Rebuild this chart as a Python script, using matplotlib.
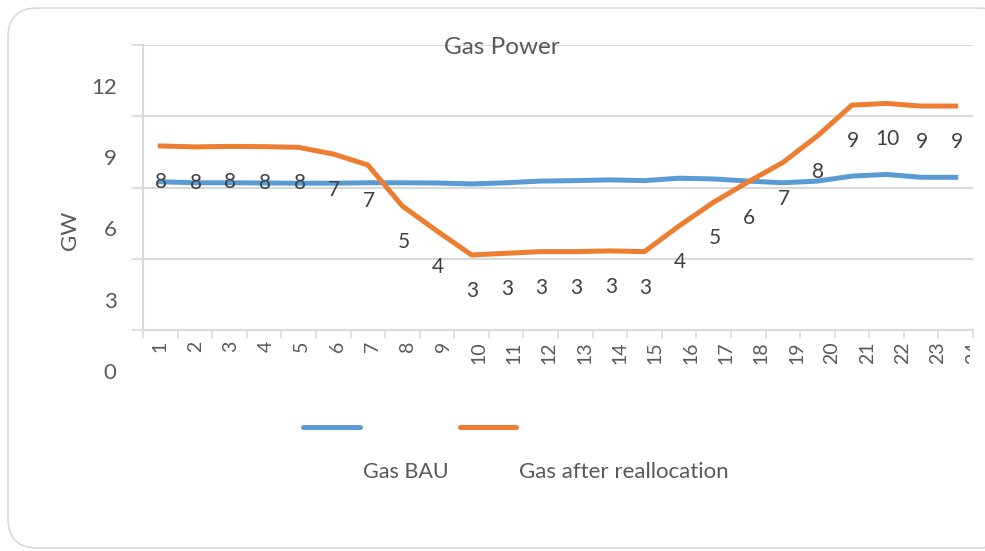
import matplotlib.pyplot as plt
from matplotlib.lines import Line2D
from matplotlib.patches import FancyBboxPatch
from matplotlib.transforms import ScaledTranslation, Bbox

plt.rcParams['font.family'] = ['Lato', 'DejaVu Sans']

hours = list(range(1, 25))
gas_bau = [6.24, 6.20, 6.20, 6.19, 6.18, 6.18, 6.20, 6.20, 6.19, 6.15, 6.20, 6.27,
           6.29, 6.32, 6.29, 6.39, 6.36, 6.27, 6.20, 6.27, 6.48, 6.55, 6.43, 6.43]
gas_realloc = [7.75, 7.71, 7.73, 7.72, 7.69, 7.41, 6.95, 5.22, 4.17, 3.16, 3.23, 3.30,
               3.30, 3.33, 3.30, 4.38, 5.38, 6.24, 7.05, 8.17, 9.47, 9.54, 9.43, 9.43]
y_ticks = [0, 3, 6, 9, 12]

BLUE = "#5B9BD5"
ORANGE = "#ED7D31"
GRID = "#D9D9D9"
TXT = "#595959"
W, H = 985, 551

fig = plt.figure(figsize=(W / 100, H / 100), dpi=100)

# rounded chart frame, runs off the right edge
frame = FancyBboxPatch((8 / W, 3 / H), 1000 / W, 540 / H,
                       boxstyle="round,pad=0,rounding_size=0.03",
                       transform=fig.transFigure, facecolor="white",
                       edgecolor="#D9D9D9", linewidth=1.2, mutation_aspect=W / H,
                       zorder=-10)
fig.add_artist(frame)

ax = fig.add_axes([143 / W, 1 - 330 / H, (973 - 143) / W, (330 - 45) / H])
ax.set_facecolor("none")

ax.plot(hours, gas_bau, color=BLUE, linewidth=3.6, solid_joinstyle="round")
ax.plot(hours, gas_realloc, color=ORANGE, linewidth=3.6, solid_joinstyle="round")

# rounded value labels, sitting below the orange line
for h, v in zip(hours, gas_realloc):
    ax.annotate(f"{v:.0f}", xy=(h, v), xytext=(1, -36), textcoords="offset pixels",
                ha="center", va="center", fontsize=15, color="#404040")

ax.set_xlim(0.5, 24.5)
ax.set_ylim(0, 12)

ax.set_yticks(y_ticks)
ax.set_yticklabels([str(t) for t in y_ticks])
ax.yaxis.grid(True, color=GRID, linewidth=1.5)
ax.tick_params(axis="y", length=8, width=1.2, color=GRID, pad=11,
               labelsize=16, labelcolor=TXT)
shift = ScaledTranslation(0, -0.41, fig.dpi_scale_trans)
for lab in ax.get_yticklabels():
    lab.set_transform(lab.get_transform() + shift)

ax.set_xticks(hours)
ax.set_xticklabels([str(h) for h in hours], rotation=90)
ax.set_xticks([h - 0.5 for h in hours] + [24.5], minor=True)
ax.tick_params(axis="x", which="major", length=0, pad=8, labelsize=14, labelcolor=TXT)
ax.tick_params(axis="x", which="minor", length=6, width=1.2, color=GRID)
clip = Bbox.from_extents(0, 0, 970, H)
for i, lab in enumerate(ax.get_xticklabels()):
    lab.set_transform(lab.get_transform() + ScaledTranslation(i * 0.0077, 0, fig.dpi_scale_trans))
    lab.set_clip_box(clip)
    lab.set_clip_on(True)

for side in ["top", "right"]:
    ax.spines[side].set_visible(False)
for side in ["left", "bottom"]:
    ax.spines[side].set_color(GRID)
    ax.spines[side].set_linewidth(1.5)
ax.set_axisbelow(True)

fig.text(502 / W, 1 - 47 / H, "Gas Power", ha="center", va="center",
         fontsize=17.5, color=TXT)
fig.text(70 / W, 1 - 230 / H, "GW", rotation=90, ha="center", va="center",
         fontsize=16, color=TXT)

# legend swatches with their labels set lower down
fig.add_artist(Line2D([303 / W, 360 / W], [1 - 427 / H] * 2, color=BLUE,
                      linewidth=3.6, solid_capstyle="round"))
fig.add_artist(Line2D([460 / W, 516 / W], [1 - 427 / H] * 2, color=ORANGE,
                      linewidth=3.6, solid_capstyle="round"))
fig.text(363 / W, 1 - 472 / H, "Gas BAU", ha="left", va="center", fontsize=15.5, color=TXT)
fig.text(519 / W, 1 - 472 / H, "Gas after reallocation", ha="left", va="center",
         fontsize=16, color=TXT)

fig.savefig("out.png", dpi=100)
